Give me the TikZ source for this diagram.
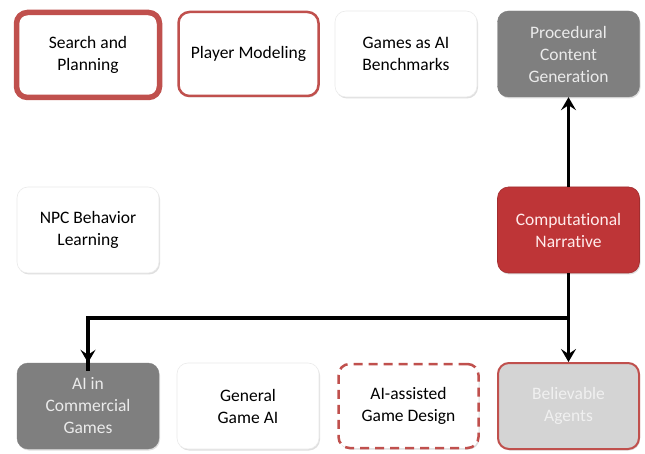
\documentclass[tikz,border=0pt]{standalone}
\usepackage{fontspec}
\setmainfont{Carlito}[Ligatures={NoCommon}]
\usetikzlibrary{arrows.meta,shadows}
\definecolor{ored}{HTML}{C0504D}
\definecolor{cnred}{HTML}{BE3537}
\definecolor{dgray}{HTML}{7F7F7F}
\definecolor{lgray}{HTML}{D4D4D4}
\begin{document}
\begin{tikzpicture}[x=1pt,y=-1pt,
  box/.style={rounded corners=11pt, minimum width=142pt, minimum height=86pt,
    align=center, font=\fontsize{17.5}{22}\selectfont, inner sep=2pt,
    drop shadow={shadow xshift=1pt, shadow yshift=-1.5pt, opacity=0.25, fill=black!50}},
  whitebox/.style={box, fill=white, draw=black!8, line width=0.6pt},
  redline/.style={box, fill=white, draw=ored, line width=2.5pt, minimum width=140pt, minimum height=84pt},
  graybox/.style={box, fill=dgray, draw=dgray, text=black!8},
  arr/.style={line width=3.5pt, -{Stealth[length=13pt,width=15pt,inset=5pt]}},
  ln/.style={line width=3.5pt}
]
\useasboundingbox (0,0) rectangle (645,454);
\fill[white] (0,0) rectangle (645,454);
% row 1
\node[redline, line width=5.5pt, minimum width=143pt, minimum height=85pt] (sp) at (88,55) {Search and\\Planning};
\node[redline] (pm) at (248.5,54) {Player Modeling};
\node[whitebox] (gb) at (406,54) {Games as AI\\Benchmarks};
\node[graybox] (pcg) at (568.5,54) {Procedural\\Content\\Generation};
% row 2
\node[whitebox] (npc) at (88,230) {NPC Behavior\\Learning};
\node[box, fill=cnred, draw=cnred!85!black, line width=0.6pt, text=red!8] (cn) at (568.5,230) {Computational\\Narrative};
% row 3
\node[graybox] (aic) at (88,406) {AI in\\Commercial\\Games};
\node[whitebox] (gga) at (248,406) {General\\Game AI};
\node[redline, dashed, dash pattern=on 9pt off 6pt] (aad) at (408.5,406) {AI-assisted\\Game Design};
\node[box, fill=lgray, draw=ored, line width=2pt, text=white!94!black, minimum width=141pt, minimum height=86pt] (ba) at (568.5,406) {Believable\\Agents};
% connectors
\coordinate (j) at (569,318);
\draw[arr] (cn.north) -- (pcg.south);
\draw[arr] (cn.south) -- (ba.north);
\draw[ln] (j) -| ([yshift=-8pt]aic.north);
\draw[arr] (j) -| (aic.north);
\end{tikzpicture}
\end{document}
